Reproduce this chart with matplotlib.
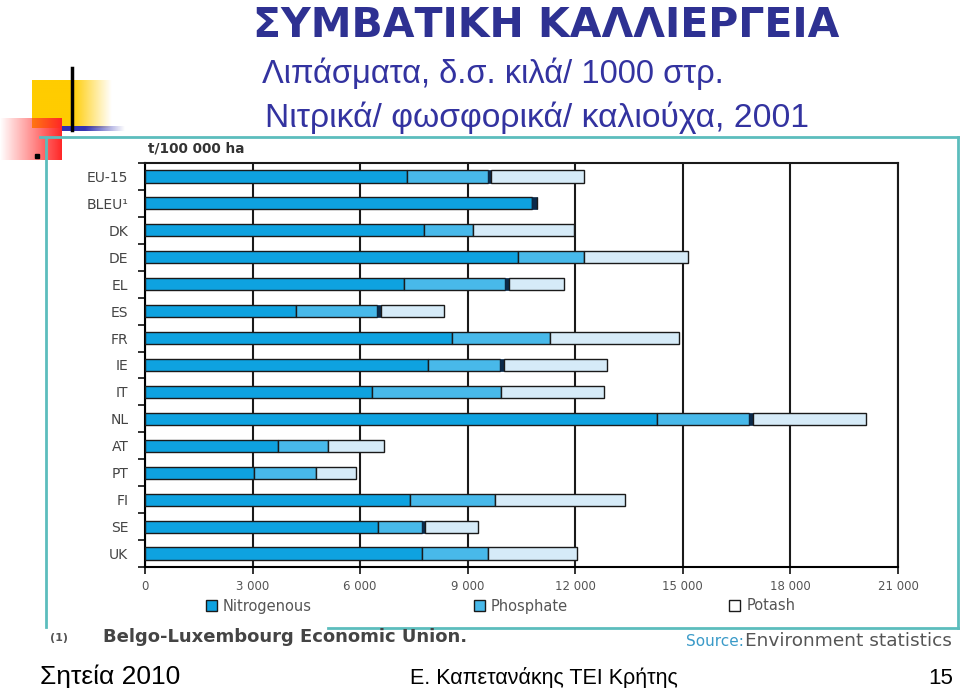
import numpy as np
import matplotlib
matplotlib.use("Agg")
import matplotlib.pyplot as plt
from matplotlib.patches import Patch
from matplotlib import font_manager

# fertiliser use 2001, t / 100 000 ha
countries = ["EU-15", "BLEU¹", "DK", "DE", "EL", "ES", "FR", "IE", "IT",
             "NL", "AT", "PT", "FI", "SE", "UK"]
nitrogenous = [7300, 10790, 7780, 10400, 7220, 4210, 8560, 7890, 6330,
               14280, 3710, 3040, 7390, 6500, 7720]
phosphate = [2260, 0, 1370, 1840, 2820, 2260, 2730, 2010, 3600,
             2560, 1400, 1730, 2370, 1230, 1840]
other = [85, 140, 0, 0, 110, 110, 0, 100, 0, 110, 0, 0, 0, 85, 0]
potash = [2590, 0, 2820, 2900, 1530, 1760, 3600, 2880, 2870,
          3150, 1560, 1110, 3620, 1480, 2480]
xticks = [0, 3000, 6000, 9000, 12000, 15000, 18000, 21000]
xticklabels = ["0", "3 000", "6 000", "9 000", "12 000", "15 000", "18 000", "21 000"]

names = {f.name for f in font_manager.fontManager.ttflist}
narrow = "Liberation Sans Narrow" if "Liberation Sans Narrow" in names else "Liberation Sans"

W, H = 960, 688
fig = plt.figure(figsize=(9.6, 6.88), dpi=100)

# page decoration layer, pixel coordinates
bg = fig.add_axes([0, 0, 1, 1], zorder=0)
bg.set_xlim(0, W)
bg.set_ylim(H, 0)
bg.axis("off")

def grad(x0, x1, y0, y1, rgb, fade_from, fade_to):
    xs = np.linspace(x0, x1, 200)
    a = np.clip((xs - fade_to) / (fade_from - fade_to), 0, 1)
    img = np.zeros((2, 200, 4))
    img[..., :3] = rgb
    img[..., 3] = a
    bg.imshow(img, extent=[x0, x1, y1, y0], aspect="auto", interpolation="bilinear", zorder=1)

grad(32, 112, 80, 128, (1.0, 0.8, 0.0), 72, 112)
grad(0, 62, 118, 160, (1.0, 0.15, 0.15), 62, 0)
grad(62, 125, 126, 131, (0.2, 0.2, 0.7), 85, 125)
bg.plot([72, 72], [68, 130], color="black", lw=2.5, zorder=3)
bg.plot([37], [156], "s", color="black", ms=2.5, zorder=3)

teal = "#5CBDBD"
bg.plot([40, 958], [137, 137], color=teal, lw=2, zorder=2)
bg.plot([46, 46], [137, 627], color=teal, lw=2, zorder=2)
bg.plot([958, 958], [137, 628], color=teal, lw=2, zorder=2)
bg.plot([328, 958], [628, 628], color=teal, lw=2, zorder=2)

title_c = "#2E3192"
bg.text(546, 37, "ΣΥΜΒΑΤΙΚΗ ΚΑΛΛΙΕΡΓΕΙΑ", ha="center", va="baseline",
        fontsize=29.5, fontweight="bold", color=title_c, family="DejaVu Sans")
bg.text(262, 83, "Λιπάσματα, δ.σ. κιλά/ 1000 στρ.", ha="left", va="baseline",
        fontsize=23.5, color="#3333A0", family=[narrow, "DejaVu Sans"])
bg.text(265, 127, "Νιτρικά/ φωσφορικά/ καλιούχα, 2001", ha="left", va="baseline",
        fontsize=24.2, color="#3333A0", family=[narrow, "DejaVu Sans"])

bg.text(148, 153, "t/100 000 ha", ha="left", va="baseline", fontsize=9.8,
        fontweight="bold", color="#333333", family="DejaVu Sans")
bg.text(50, 641, "(1)", ha="left", va="baseline", fontsize=8,
        fontweight="bold", color="#555555", family="DejaVu Sans")
bg.text(103, 642, "Belgo-Luxembourg Economic Union.", ha="left", va="baseline",
        fontsize=13, fontweight="bold", color="#444444", family="DejaVu Sans")
bg.text(686, 646, "Source:", ha="left", va="baseline", fontsize=11,
        color="#3A9AC8", family="DejaVu Sans")
bg.text(745, 646, "Environment statistics", ha="left", va="baseline", fontsize=13.3,
        color="#555555", family="DejaVu Sans")

bg.text(40, 684, "Σητεία 2010", ha="left", va="baseline", fontsize=19,
        color="black", family=[narrow, "DejaVu Sans"])
bg.text(544, 684, "Ε. Καπετανάκης ΤΕΙ Κρήτης", ha="center", va="baseline", fontsize=15.5,
        color="black", family=[narrow, "DejaVu Sans"])
bg.text(953, 684, "15", ha="right", va="baseline", fontsize=16,
        color="black", family=[narrow, "DejaVu Sans"])

# the chart
ax = fig.add_axes([145 / W, 1 - 567 / H, (898 - 145) / W, (567 - 163) / H], zorder=2)
ax.set_facecolor("none")

y = np.arange(len(countries))
c_n, c_p, c_o, c_k = "#0EA2E0", "#48B9EA", "#0B2A4A", "#D6EBF8"
n = np.array(nitrogenous)
p = np.array(phosphate)
o = np.array(other)
k = np.array(potash)
h = 0.45
kw = dict(height=h, edgecolor="#1A1A1A", linewidth=1, zorder=3)
ax.barh(y, n, color=c_n, **kw)
ax.barh(y, p, left=n, color=c_p, **kw)
ax.barh(y, o, left=n + p, color=c_o, height=h, edgecolor=c_o, linewidth=0.5, zorder=3)
ax.barh(y, k, left=n + p + o, color=c_k, **kw)

ax.set_xlim(0, 21000)
ax.set_ylim(len(countries) - 0.5, -0.5)
ax.set_xticks(xticks)
ax.set_xticklabels(xticklabels, fontsize=8.5, color="#555555", family="DejaVu Sans")
ax.set_yticks(y)
ax.set_yticklabels(countries, fontsize=10, color="#444444", family="DejaVu Sans")
ax.set_yticks(np.arange(len(countries) + 1) - 0.5, minor=True)
ax.tick_params(axis="y", which="major", length=0, pad=12)
ax.tick_params(axis="y", which="minor", length=5, width=1.3, direction="out", color="#222222")
ax.tick_params(axis="x", length=10, width=1.3, direction="inout", pad=4, color="#222222")
ax.grid(axis="x", color="#1A1A1A", lw=1.5, zorder=1)
for s in ["top", "right"]:
    ax.spines[s].set_linewidth(1.5)
    ax.spines[s].set_color("#1A1A1A")
ax.spines["left"].set_linewidth(1.5)
ax.spines["bottom"].set_linewidth(1.5)

handles = [Patch(facecolor=c_n, edgecolor="#1A1A1A", label="Nitrogenous"),
           Patch(facecolor=c_p, edgecolor="#1A1A1A", label="Phosphate"),
           Patch(facecolor="white", edgecolor="#1A1A1A", label="Potash")]
leg = ax.legend(handles=handles, ncol=3, loc="center left",
                bbox_to_anchor=(206 / W, 1 - 606 / H), bbox_transform=fig.transFigure,
                frameon=False, handlelength=0.75, handleheight=0.75, handletextpad=0.4,
                columnspacing=11.1, borderpad=0, borderaxespad=0,
                prop={"family": "DejaVu Sans", "size": 10.5})
for t in leg.get_texts():
    t.set_color("#555555")

fig.savefig("out.png", dpi=100)
